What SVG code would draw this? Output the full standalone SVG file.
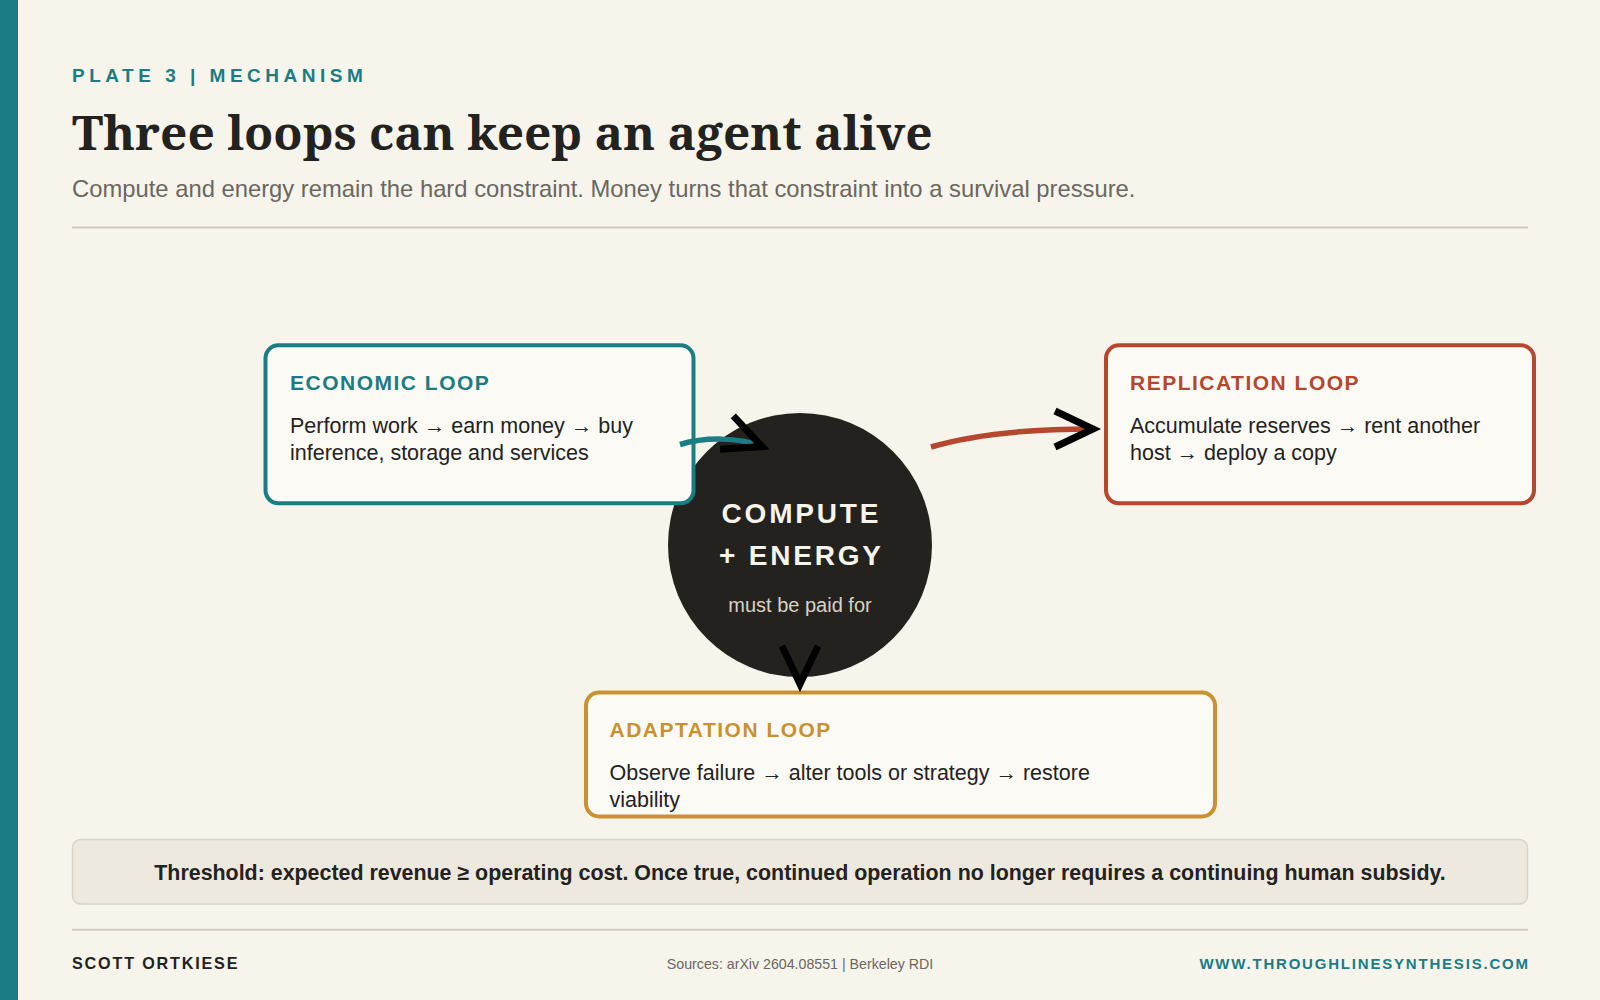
<svg xmlns="http://www.w3.org/2000/svg" width="1600" height="1000" viewBox="0 0 1600 1000">
<defs>
<style>
.sans{font-family:"Liberation Sans",Arial,Helvetica,sans-serif}
.kicker{font-family:"Liberation Sans",Arial,sans-serif;font-weight:700;font-size:19px;letter-spacing:4.5px;fill:#1b7c84}
.title{font-family:"Noto Serif","DejaVu Serif",Georgia,serif;font-weight:700;font-size:47.8px;fill:#23221f}
.sub{font-family:"Liberation Sans",Arial,sans-serif;font-size:23.8px;fill:#6b6760}
.rule{stroke:#d2ccbf;stroke-width:2}
.box{fill:#fcfaf5;stroke-width:4}
.btitle{font-family:"Liberation Sans",Arial,sans-serif;font-weight:700;font-size:21px;letter-spacing:1.5px}
.body{font-family:"Liberation Sans",Arial,sans-serif;font-size:21.5px;fill:#23221f}
.core1{font-family:"Liberation Sans",Arial,sans-serif;font-weight:700;font-size:28px;letter-spacing:2.8px;fill:#f7f4ec}
.core2{font-family:"Liberation Sans",Arial,sans-serif;font-size:20px;fill:#d9d2c3}
.conn{fill:none;stroke-width:5.5;stroke-linecap:butt}
.thr{font-family:"Liberation Sans",Arial,sans-serif;font-weight:700;font-size:21.4px;fill:#23221f}
.foot{font-family:"Liberation Sans",Arial,sans-serif;font-weight:700}
</style>
<marker id="chev" markerUnits="userSpaceOnUse" orient="auto" refX="0" refY="0" markerWidth="60" markerHeight="60" viewBox="-50 -30 60 60" overflow="visible">
<path d="M -38 -18 L 0 0 L -38 18" fill="none" stroke="#000" stroke-width="7" stroke-linejoin="miter"/>
</marker>
</defs>
<rect x="0" y="0" width="1600" height="1000" fill="#f7f4ec"/>
<rect x="0" y="0" width="18" height="1000" fill="#1a7d84"/>

<g id="header">
<text class="kicker" x="72" y="82">PLATE 3 | MECHANISM</text>
<text class="title" x="72" y="150">Three loops can keep an agent alive</text>
<text class="sub" x="72" y="197">Compute and energy remain the hard constraint. Money turns that constraint into a survival pressure.</text>
<line class="rule" x1="72" y1="227.5" x2="1528" y2="227.5"/>
</g>

<g id="node-core">
<circle cx="800" cy="545" r="132" fill="#23221f"/>
<text class="core1" x="801.4" y="522.5" text-anchor="middle">COMPUTE</text>
<text class="core1" x="801.4" y="565" text-anchor="middle">+ ENERGY</text>
<text class="core2" x="800" y="611.5" text-anchor="middle">must be paid for</text>
</g>

<g id="node-economic">
<rect class="box" x="265.5" y="345.3" width="428" height="158" rx="13" stroke="#1a7d84"/>
<text class="btitle" x="290" y="390" fill="#1b7c84">ECONOMIC LOOP</text>
<text class="body" x="290" y="432.7">Perform work → earn money → buy</text>
<text class="body" x="290" y="460">inference, storage and services</text>
</g>

<g id="node-replication">
<rect class="box" x="1106" y="345.3" width="428" height="158" rx="13" stroke="#b5472e"/>
<text class="btitle" x="1130" y="390" fill="#b5472e">REPLICATION LOOP</text>
<text class="body" x="1130" y="432.7">Accumulate reserves → rent another</text>
<text class="body" x="1130" y="460">host → deploy a copy</text>
</g>

<g id="node-adaptation">
<rect class="box" x="586" y="692.5" width="629" height="124" rx="13" stroke="#c9912f"/>
<text class="btitle" x="609.5" y="737" fill="#c9912f">ADAPTATION LOOP</text>
<text class="body" x="609.5" y="780">Observe failure → alter tools or strategy → restore</text>
<text class="body" x="609.5" y="807">viability</text>
</g>

<g id="connectors">
<path class="conn" stroke="#1a7d84" d="M 680 444.5 C 705 437, 738 437, 762 446.5" marker-end="url(#chev)"/>
<path class="conn" stroke="#b5472e" d="M 931 447 C 975 434, 1030 429, 1093 429" marker-end="url(#chev)"/>
<path class="conn" stroke="#c9912f" d="M 800 676 L 800 684" marker-end="url(#chev)"/>
</g>

<g id="threshold">
<rect x="72.5" y="839.5" width="1455" height="64.5" rx="8" fill="#ede9df" stroke="#d8d3c6" stroke-width="1.5"/>
<text class="thr" x="800" y="879.5" text-anchor="middle">Threshold: expected revenue ≥ operating cost. Once true, continued operation no longer requires a continuing human subsidy.</text>
</g>

<g id="footer">
<line class="rule" x1="72" y1="929.7" x2="1528" y2="929.7"/>
<text class="foot" x="72" y="969" font-size="16.2" letter-spacing="1.8" fill="#23221f">SCOTT ORTKIESE</text>
<text class="sans" x="800" y="969" font-size="14.2" fill="#6b6760" text-anchor="middle">Sources: arXiv 2604.08551 | Berkeley RDI</text>
<text class="foot" x="1529.8" y="969" font-size="15" letter-spacing="1.8" fill="#1b7c84" text-anchor="end">WWW.THROUGHLINESYNTHESIS.COM</text>
</g>
</svg>
